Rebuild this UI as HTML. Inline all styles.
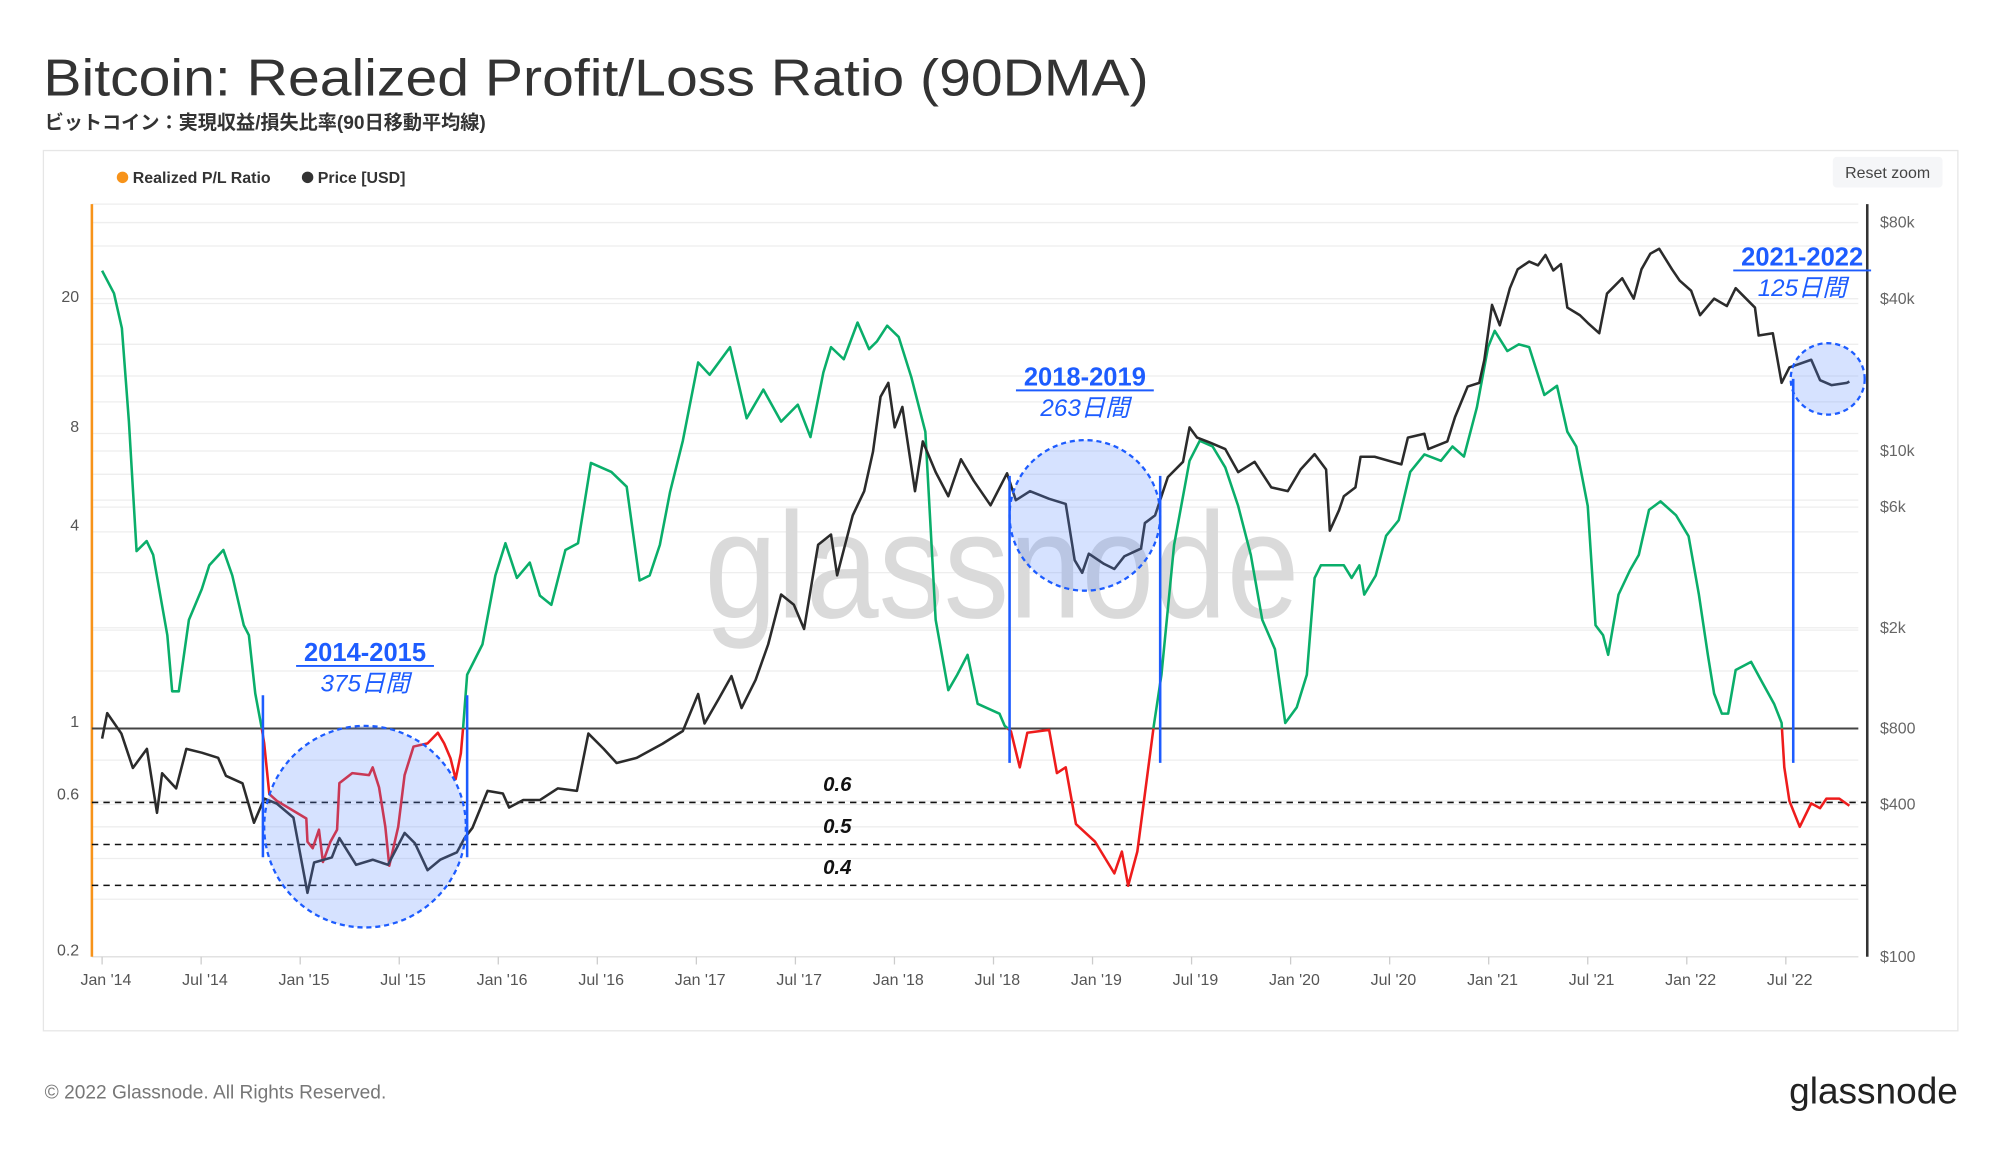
<!DOCTYPE html>
<html><head><meta charset="utf-8">
<style>
html,body{margin:0;padding:0;background:#fff;}
svg{display:block;font-family:"Liberation Sans","Noto Sans CJK JP",sans-serif;}
</style></head>
<body>
<svg id="chart" width="2000" height="1152" viewBox="0 0 1567 903" preserveAspectRatio="none" xmlns="http://www.w3.org/2000/svg">
<defs>
<clipPath id="clipAbove"><rect x="0" y="0" width="1562" height="571"/></clipPath>
<clipPath id="clipBelow"><rect x="0" y="571" width="1562" height="400"/></clipPath>
</defs>
<text x="34" y="75" font-size="41" fill="#333" textLength="866" lengthAdjust="spacingAndGlyphs">Bitcoin: Realized Profit/Loss Ratio (90DMA)</text>
<text x="35" y="101" font-size="15" font-weight="bold" fill="#333">ビットコイン：実現収益/損失比率(90日移動平均線)</text>
<rect x="34" y="118" width="1500" height="690" fill="#fff" stroke="#e6e6e6"/>
<g>
<circle cx="96" cy="139" r="4.5" fill="#f7931a"/>
<text x="104" y="143.5" font-size="12.5" font-weight="bold" fill="#333">Realized P/L Ratio</text>
<circle cx="241" cy="139" r="4.5" fill="#333"/>
<text x="249" y="143.5" font-size="12.5" font-weight="bold" fill="#333">Price [USD]</text>
</g>
<g>
<rect x="1436" y="123" width="86" height="24" rx="3" fill="#f5f6f8"/>
<text x="1479" y="139.5" font-size="12.5" fill="#444" text-anchor="middle">Reset zoom</text>
</g>
<g id="grid"></g>
<text x="552" y="484" font-size="118" fill="#dadada" textLength="466" lengthAdjust="spacingAndGlyphs">glassnode</text>
<line x1="72" y1="160" x2="72" y2="750" stroke="#f7931a" stroke-width="2"/>
<line x1="1463" y1="160" x2="1463" y2="750" stroke="#333" stroke-width="2"/>
<g id="annot-lines"></g>
<g id="series"></g>
<g id="axes"></g>
<g id="annotations"></g>
<text x="35" y="861" font-size="15" fill="#777">© 2022 Glassnode. All Rights Reserved.</text>
<text x="1534" y="865" font-size="29" fill="#222" text-anchor="end">glassnode</text>
</svg>
<script>
const ratioDates=[2014.00,2014.06,2014.10,2014.135,2014.174,2014.225,2014.258,2014.329,2014.354,2014.387,2014.438,2014.503,2014.541,2014.612,2014.657,2014.715,2014.741,2014.773,2014.805,2014.818,2014.844,2014.883,2015.031,2015.037,2015.063,2015.095,2015.115,2015.153,2015.186,2015.198,2015.263,2015.347,2015.366,2015.398,2015.430,2015.450,2015.495,2015.527,2015.572,2015.643,2015.695,2015.727,2015.759,2015.785,2015.811,2015.823,2015.843,2015.920,2015.985,2016.036,2016.094,2016.159,2016.210,2016.268,2016.339,2016.403,2016.468,2016.571,2016.648,2016.713,2016.764,2016.816,2016.867,2016.932,2017.009,2017.067,2017.170,2017.254,2017.338,2017.428,2017.512,2017.576,2017.641,2017.680,2017.744,2017.814,2017.872,2017.911,2017.963,2018.021,2018.085,2018.156,2018.208,2018.272,2018.317,2018.369,2018.420,2018.530,2018.556,2018.588,2018.633,2018.671,2018.781,2018.820,2018.865,2018.916,2019.013,2019.110,2019.148,2019.180,2019.226,2019.264,2019.309,2019.348,2019.412,2019.490,2019.541,2019.606,2019.670,2019.735,2019.799,2019.857,2019.921,2019.973,2020.031,2020.082,2020.121,2020.153,2020.269,2020.308,2020.347,2020.372,2020.430,2020.482,2020.546,2020.604,2020.675,2020.759,2020.817,2020.875,2020.940,2020.997,2021.030,2021.094,2021.152,2021.204,2021.281,2021.345,2021.397,2021.442,2021.500,2021.539,2021.577,2021.603,2021.655,2021.713,2021.758,2021.809,2021.867,2021.945,2022.009,2022.061,2022.106,2022.138,2022.177,2022.209,2022.247,2022.325,2022.376,2022.441,2022.479,2022.492,2022.518,2022.570,2022.628,2022.673,2022.705,2022.770,2022.821];
const ratioValues=[25.2,21.5,16.8,8.7,3.49,3.75,3.40,1.93,1.30,1.30,2.15,2.67,3.16,3.52,2.94,2.07,1.93,1.28,1.01,0.90,0.63,0.60,0.53,0.45,0.43,0.49,0.39,0.45,0.49,0.68,0.73,0.72,0.76,0.66,0.50,0.38,0.50,0.72,0.88,0.90,0.97,0.90,0.81,0.70,0.84,1.01,1.46,1.81,2.94,3.69,2.89,3.22,2.55,2.39,3.52,3.69,6.5,6.1,5.5,2.84,2.94,3.65,5.3,7.6,13.2,12.1,14.7,8.9,10.9,8.7,9.8,7.8,12.3,14.7,13.5,17.5,14.5,15.3,17.1,15.8,11.9,8.1,2.15,1.31,1.46,1.68,1.19,1.11,1.02,0.98,0.76,0.97,0.99,0.73,0.76,0.51,0.45,0.36,0.42,0.33,0.42,0.63,1.02,1.46,3.65,6.6,7.6,7.3,6.3,4.8,3.40,2.15,1.75,1.04,1.16,1.46,2.89,3.16,3.16,2.89,3.16,2.57,2.94,3.89,4.34,6.1,6.9,6.6,7.3,6.8,9.6,14.7,16.5,14.3,15.0,14.7,10.5,11.2,8.1,7.3,4.8,2.07,1.93,1.68,2.57,3.05,3.40,4.67,4.96,4.5,3.88,2.57,1.68,1.28,1.11,1.11,1.51,1.60,1.40,1.19,1.04,0.76,0.60,0.50,0.59,0.57,0.61,0.61,0.58];
const priceDates=[2014.00,2014.026,2014.097,2014.155,2014.226,2014.277,2014.303,2014.374,2014.425,2014.503,2014.586,2014.625,2014.709,2014.767,2014.818,2014.883,2014.966,2015.037,2015.070,2015.160,2015.198,2015.282,2015.366,2015.443,2015.527,2015.579,2015.643,2015.707,2015.791,2015.830,2015.869,2015.946,2016.023,2016.055,2016.126,2016.210,2016.300,2016.397,2016.455,2016.532,2016.597,2016.700,2016.829,2016.932,2017.009,2017.041,2017.112,2017.177,2017.228,2017.299,2017.363,2017.428,2017.492,2017.544,2017.615,2017.680,2017.711,2017.789,2017.847,2017.892,2017.930,2017.969,2018.001,2018.040,2018.104,2018.143,2018.208,2018.272,2018.336,2018.401,2018.485,2018.568,2018.613,2018.684,2018.781,2018.865,2018.910,2018.948,2018.981,2019.058,2019.110,2019.161,2019.245,2019.264,2019.316,2019.380,2019.457,2019.490,2019.528,2019.593,2019.670,2019.735,2019.818,2019.902,2019.986,2020.050,2020.121,2020.179,2020.198,2020.244,2020.269,2020.327,2020.353,2020.424,2020.559,2020.592,2020.675,2020.695,2020.791,2020.830,2020.894,2020.952,2020.978,2021.017,2021.056,2021.107,2021.146,2021.204,2021.249,2021.287,2021.326,2021.365,2021.397,2021.461,2021.500,2021.558,2021.597,2021.674,2021.732,2021.771,2021.816,2021.861,2021.925,2021.964,2022.022,2022.067,2022.138,2022.202,2022.247,2022.344,2022.363,2022.434,2022.479,2022.518,2022.628,2022.673,2022.731,2022.808,2022.821];
const priceValues=[729,919,763,558,664,371,532,463,664,641,612,520,485,339,422,403,355,179,236,247,295,231,242,231,309,281,220,242,259,295,323,453,442,389,417,417,463,453,763,664,584,612,696,781,1094,837,1044,1287,963,1243,1722,2706,2467,1978,4257,4672,3223,5564,6935,9940,16384,18600,12390,14930,6935,10910,8250,6620,9270,7610,6100,8160,6390,6935,6470,6175,3700,3298,3925,3577,3416,3837,4114,5190,5564,7880,9060,12390,11300,10790,10180,8250,9060,7180,6935,8450,9710,8450,4840,5830,6620,7180,9490,9490,8850,11300,11700,10180,10910,13600,17980,18600,22950,37800,31400,44000,52300,56100,54200,59500,51700,54800,36900,34400,32100,29200,41900,48200,40000,52300,60200,63000,52300,47200,43000,34400,40000,37400,44000,36900,28600,29200,18600,21400,22950,19060,18200,18600,18800];
const xTickLabels=["Jan '14","Jul '14","Jan '15","Jul '15","Jan '16","Jul '16","Jan '17","Jul '17","Jan '18","Jul '18","Jan '19","Jul '19","Jan '20","Jul '20","Jan '21","Jul '21","Jan '22","Jul '22"];
const xTickDates=[2014,2014.5,2015,2015.5,2016,2016.5,2017,2017.5,2018,2018.5,2019,2019.5,2020,2020.5,2021,2021.5,2022,2022.5];
const ratioTicks=[20,8,4,1,0.6,0.2];
const ratioTickLabels=["20","8","4","1","0.6","0.2"];
const priceTicks=[80000,40000,10000,6000,2000,800,400,100];
const priceTickLabels=["$80k","$40k","$10k","$6k","$2k","$800","$400","$100"];
const extraGridRatio=[30,15,12,10,6,5,3,2,1.5,0.8,0.5,0.4,0.3];

const NS="http://www.w3.org/2000/svg";
function xS(t){return 80+155.2*(t-2014);}
function yR(v){return 750-111.2*Math.log(v/0.2);}
function yP(p){return 750-86.1*Math.log(p/100);}
function mk(tag,attrs,parent){const e=document.createElementNS(NS,tag);for(const k in attrs)e.setAttribute(k,attrs[k]);parent.appendChild(e);return e;}

const grid=document.getElementById('grid');
extraGridRatio.concat(ratioTicks).forEach(v=>{const y=yR(v);if(y<160||y>750)return;
 const l=mk('line',{x1:72,x2:1456,y1:y,y2:y,stroke:'#eeeeee','stroke-width':1},grid);
 
 });
priceTicks.forEach(p=>{const y=yP(p);
 const l=mk('line',{x1:72,x2:1456,y1:y,y2:y,stroke:'#eeeeee','stroke-width':1},grid);
 
 });
mk('line',{x1:72,x2:1456,y1:160,y2:160,stroke:'#eeeeee'},grid);
mk('line',{x1:72,x2:1456,y1:750,y2:750,stroke:'#e0e0e0'},grid);

const ann=document.getElementById('annot-lines');
const dashY=[629,662,694], dashLbl=["0.6","0.5","0.4"];
dashY.forEach((y,i)=>{
 const l=mk('line',{x1:72,x2:1462,y1:y,y2:y,stroke:'#111','stroke-width':1.2,'stroke-dasharray':'5,4'},ann);
 
 
 const t=mk('text',{x:656,y:y-9,'font-size':16,'font-weight':'bold','font-style':'italic',fill:'#111','text-anchor':'middle'},ann);
 t.textContent=dashLbl[i];
 
 
});
const one=mk('line',{x1:72,x2:1456,y1:yR(1),y2:yR(1),stroke:'#444','stroke-width':1.6},ann);



const ser=document.getElementById('series');
let dR=ratioDates.map((t,i)=>(i?'L':'M')+xS(t).toFixed(1)+','+yR(ratioValues[i]).toFixed(1)).join('');
const g1=mk('path',{d:dR,fill:'none',stroke:'#0aae6a','stroke-width':2,'clip-path':'url(#clipAbove)','stroke-linejoin':'round'},ser);


const r1=mk('path',{d:dR,fill:'none',stroke:'#ee1c1c','stroke-width':2,'clip-path':'url(#clipBelow)','stroke-linejoin':'round'},ser);


let dP=priceDates.map((t,i)=>(i?'L':'M')+xS(t).toFixed(1)+','+yP(priceValues[i]).toFixed(1)).join('');
const pl=mk('path',{d:dP,fill:'none',stroke:'#2b2b2b','stroke-width':2,'stroke-linejoin':'round'},ser);



const ax=document.getElementById('axes');
xTickLabels.forEach((s,i)=>{const x=xS(xTickDates[i]);
 mk('line',{x1:x,x2:x,y1:750,y2:756,stroke:'#ccc'},ax);
 const t=mk('text',{x:x+3,y:772,'font-size':12.5,fill:'#555','text-anchor':'middle'},ax);
 t.textContent=s;
 
 });
ratioTicks.forEach((v,i)=>{const t=mk('text',{x:62,y:yR(v)-1,'font-size':12.5,fill:'#555','text-anchor':'end'},ax);
 t.textContent=ratioTickLabels[i];
 
 });
priceTicks.forEach((p,i)=>{const t=mk('text',{x:1473,y:yP(p)+4,'font-size':12.5,fill:'#666'},ax);
 t.textContent=priceTickLabels[i];
 
 });

const an=document.getElementById('annotations');
const periods=[
 {x1:206,x2:366,ytop:545,ybot:672,cx:286,cy:648,rx:79,ry:79,lx:286,ly:518,t:"2014-2015",d:"375日間"},
 {x1:791,x2:909,ytop:373,ybot:598,cx:850,cy:404,rx:59,ry:59,lx:850,ly:302,t:"2018-2019",d:"263日間"},
 {x1:1405,x2:null,ytop:297,ybot:598,cx:1432,cy:297,rx:29,ry:28,lx:1412,ly:208,t:"2021-2022",d:"125日間"}
];
periods.forEach(p=>{
 const c=mk('ellipse',{cx:p.cx,cy:p.cy,rx:p.rx,ry:p.ry,fill:'rgba(90,140,255,0.25)',stroke:'#1d5cff','stroke-width':1.8,'stroke-dasharray':'4,3'},an);
 
 
 [p.x1,p.x2].forEach(x=>{if(x===null)return;
  const l=mk('line',{x1:x,x2:x,y1:p.ytop,y2:p.ybot,stroke:'#1d5cff','stroke-width':2},an);
  
  });
 const t=mk('text',{x:p.lx,y:p.ly,'font-size':20,'font-weight':'bold',fill:'#1d5cff','text-anchor':'middle'},an);
 t.textContent=p.t;
 
 
 const w=108;
 mk('line',{x1:p.lx-w/2,x2:p.lx+w/2,y1:p.ly+4,y2:p.ly+4,stroke:'#1d5cff','stroke-width':1.5},an);
 const d=mk('text',{x:p.lx,y:p.ly+24,'font-size':19,'font-style':'italic',fill:'#1d5cff','text-anchor':'middle'},an);
 d.textContent=p.d;
 
 
});
</script>
</body></html>
